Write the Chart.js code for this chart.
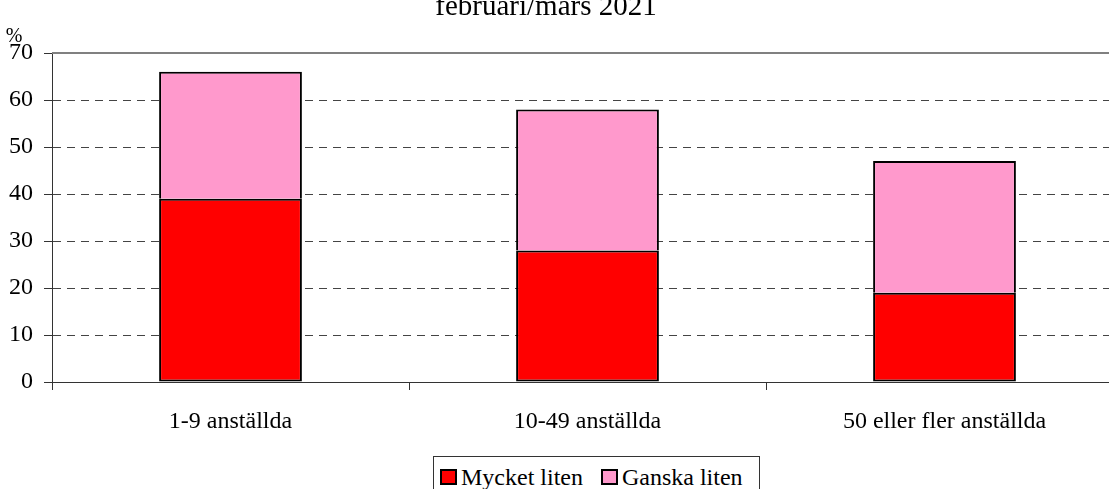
<!DOCTYPE html>
<html>
<head>
<meta charset="utf-8">
<script src="https://cdn.jsdelivr.net/npm/chart.js@4.4.0/dist/chart.umd.min.js"></script>
<style>
  html, body { margin: 0; padding: 0; background: #fff; overflow: hidden; width: 1109px; height: 489px; }
  #wrap { position: absolute; left: 0; top: 0; width: 1130px; height: 489px; }
  #legend {
    position: absolute; left: 433px; top: 456px; width: 327px; height: 44px;
    border: 1px solid #333; background: #fff;
    font-family: "Liberation Serif", "DejaVu Serif"; font-size: 24px; line-height: 24px; color: #000;
    display: flex; align-items: flex-start; padding-top: 8px; box-sizing: border-box; padding-left: 6px;
    white-space: nowrap;
  }
  #legend span.item { display: inline-flex; align-items: baseline; margin-right: 18px; }
  #legend span.box { display: inline-block; width: 13px; height: 12px; border: 2px solid #000; margin-right: 4px; }
</style>
</head>
<body>
<div id="wrap"><canvas id="grafico"></canvas></div>
<div id="legend"></div>
<script>
const categorias = ["1-9 anställda", "10-49 anställda", "50 eller fler anställda"];
const mycketLiten = [39, 28, 19];
const ganskaLiten = [27, 30, 28];
const yTicks = [0, 10, 20, 30, 40, 50, 60, 70];
const titel = "februari/mars 2021";

const fonte = '"Liberation Serif", "DejaVu Serif"';

// titel, procenttecken och ram i överkant
const extraText = {
  id: "extraText",
  afterDraw(chart) {
    const ctx = chart.ctx;
    const area = chart.chartArea;
    ctx.save();
    ctx.fillStyle = "#000";
    ctx.font = "29px " + fonte;
    ctx.textAlign = "center";
    ctx.textBaseline = "alphabetic";
    ctx.fillText(titel, 546, 15);
    ctx.font = "20px " + fonte;
    ctx.fillText("%", 14, 42);
    ctx.strokeStyle = "#808080";
    ctx.lineWidth = 2;
    ctx.beginPath();
    ctx.moveTo(area.left, area.top);
    ctx.lineTo(area.right, area.top);
    ctx.stroke();
    ctx.restore();
  }
};

const grafico = new Chart(document.getElementById("grafico"), {
  type: "bar",
  data: {
    labels: categorias,
    datasets: [
      {
        label: "Mycket liten",
        data: mycketLiten,
        backgroundColor: "#ff0000",
        borderColor: "#000",
        borderWidth: 2,
        borderSkipped: false
      },
      {
        label: "Ganska liten",
        data: ganskaLiten,
        backgroundColor: "#ff99cc",
        borderColor: "#000",
        borderWidth: 2,
        borderSkipped: "start"
      }
    ]
  },
  options: {
    responsive: true,
    maintainAspectRatio: false,
    animation: false,
    devicePixelRatio: 1,
    layout: { padding: { top: 53, right: 7, left: 0, bottom: 0 } },
    datasets: { bar: { categoryPercentage: 1, barPercentage: 0.4 } },
    plugins: {
      legend: { display: false },
      tooltip: { enabled: false }
    },
    scales: {
      x: {
        stacked: true,
        grid: {
          offset: true,
          drawOnChartArea: false,
          tickLength: 8,
          tickColor: "#333"
        },
        border: { color: "#333", width: 1 },
        ticks: {
          color: "#000",
          padding: 17,
          maxRotation: 0,
          font: { family: fonte, size: 24 }
        },
        afterFit(scale) { scale.height = 107; }
      },
      y: {
        stacked: true,
        min: 0,
        max: 70,
        afterBuildTicks(scale) { scale.ticks = yTicks.map(v => ({ value: v })); },
        grid: {
          color: ctx => (ctx.tick && (ctx.tick.value === 0 || ctx.tick.value === 70)) ? "rgba(0,0,0,0)" : "#444",
          tickColor: "#333",
          tickLength: 8
        },
        border: { color: "#333", width: 1, dash: [8, 6] },
        ticks: {
          color: "#000",
          padding: 11,
          font: { family: fonte, size: 24 }
        },
        afterFit(scale) { scale.width = 52; }
      }
    }
  },
  plugins: [extraText]
});

// förklaring
const legend = document.getElementById("legend");
grafico.data.datasets.forEach(ds => {
  const item = document.createElement("span");
  item.className = "item";
  item.innerHTML = `<span class="box" style="background:${ds.backgroundColor}"></span>${ds.label}`;
  legend.appendChild(item);
});
</script>
</body>
</html>
